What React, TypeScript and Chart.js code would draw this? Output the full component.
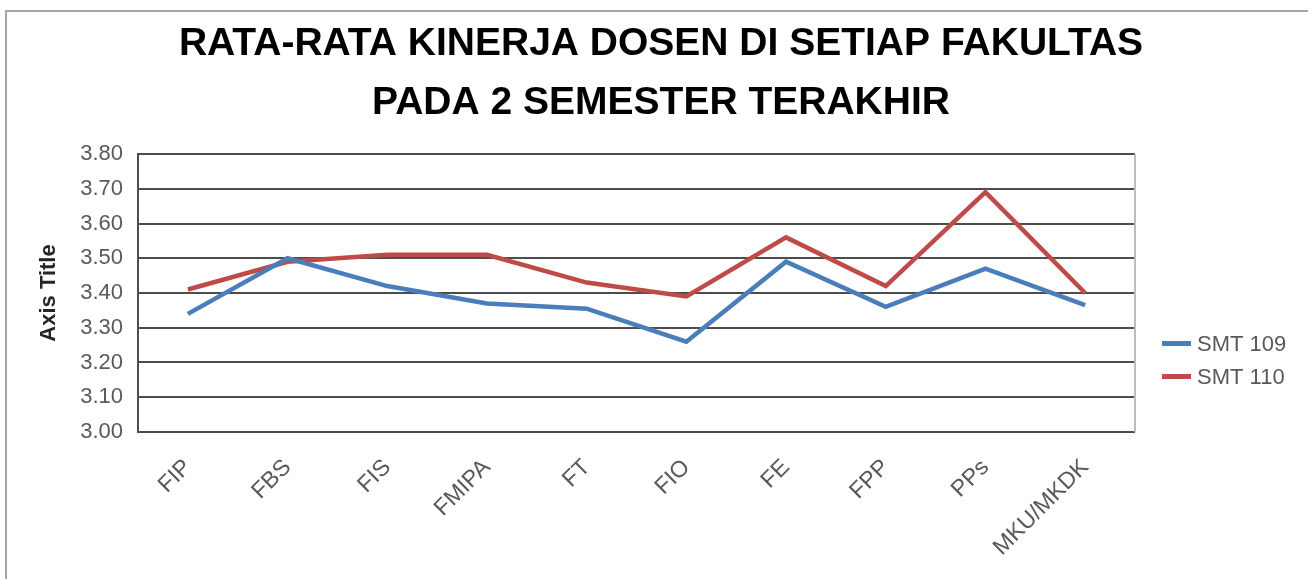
import React, { useEffect, useRef } from "react";
import { Chart, registerables } from "chart.js";

Chart.register(...registerables);

const categories = ["FIP", "FBS", "FIS", "FMIPA", "FT", "FIO", "FE", "FPP", "PPs", "MKU/MKDK"];
const smt109 = [3.34, 3.5, 3.42, 3.37, 3.355, 3.26, 3.49, 3.36, 3.47, 3.365];
const smt110 = [3.41, 3.49, 3.51, 3.51, 3.43, 3.39, 3.56, 3.42, 3.69, 3.4];
const seriesNames = ["SMT 109", "SMT 110"];
const seriesColors = ["#4A7EBB", "#BE4B48"];
const titleLines = ["RATA-RATA KINERJA DOSEN DI SETIAP FAKULTAS", "PADA 2 SEMESTER TERAKHIR"];
const yTitle = "Axis Title";

const FONT = '"Liberation Sans", Arial, sans-serif';

const framePlugin = {
  id: "frame",
  beforeDraw(chart: any) {
    const { ctx } = chart;
    ctx.save();
    ctx.fillStyle = "#ffffff";
    ctx.fillRect(0, 0, chart.width, chart.height);
    ctx.strokeStyle = "#a6a6a6";
    ctx.lineWidth = 2;
    ctx.strokeRect(6, 11, chart.width + 50, chart.height + 50);
    ctx.restore();
  },
  afterDraw(chart: any) {
    const { ctx, chartArea } = chart;
    ctx.save();
    // right plot border
    ctx.strokeStyle = "#bdbdbd";
    ctx.lineWidth = 2;
    ctx.beginPath();
    ctx.moveTo(chartArea.right, chartArea.top);
    ctx.lineTo(chartArea.right, chartArea.bottom);
    ctx.stroke();
    // title
    ctx.fillStyle = "#000000";
    ctx.font = `bold 39px ${FONT}`;
    ctx.textAlign = "center";
    ctx.textBaseline = "alphabetic";
    ctx.fillText(titleLines[0], 661, 55);
    ctx.fillText(titleLines[1], 661, 114);
    // legend
    ctx.font = `22px ${FONT}`;
    ctx.textAlign = "left";
    chart.data.datasets.forEach((ds: any, i: number) => {
      const cy = 343 + i * 33;
      ctx.fillStyle = ds.borderColor;
      ctx.fillRect(1162, cy - 2, 29, 5);
      ctx.fillStyle = "#595959";
      ctx.fillText(ds.label, 1197, cy + 8);
    });
    ctx.restore();
  },
};

export default function App() {
  const ref = useRef<HTMLCanvasElement | null>(null);
  useEffect(() => {
    if (!ref.current) return;
    const chart = new Chart(ref.current, {
      type: "line",
      data: {
        labels: categories,
        datasets: [
          {
            label: seriesNames[0],
            data: smt109,
            borderColor: seriesColors[0],
            backgroundColor: seriesColors[0],
            borderWidth: 4.5,
            pointRadius: 0,
            tension: 0,
          },
          {
            label: seriesNames[1],
            data: smt110,
            borderColor: seriesColors[1],
            backgroundColor: seriesColors[1],
            borderWidth: 4.5,
            pointRadius: 0,
            tension: 0,
          },
        ],
      },
      options: {
        responsive: false,
        animation: false,
        devicePixelRatio: 1,
        layout: { padding: { left: 0, top: 154, right: 173, bottom: 0 } },
        plugins: {
          legend: { display: false },
          title: { display: false },
          tooltip: { enabled: false },
        },
        scales: {
          x: {
            offset: true,
            grid: { display: false },
            border: { display: false },
            ticks: {
              autoSkip: false,
              minRotation: 45,
              maxRotation: 45,
              padding: 14,
              color: "#595959",
              font: { family: FONT, size: 23 },
            },
            afterFit(scale: any) {
              scale.height = 147;
            },
          },
          y: {
            min: 3.0,
            max: 3.8,
            ticks: {
              stepSize: 0.1,
              padding: 15,
              color: "#595959",
              font: { family: FONT, size: 22 },
              callback: (v: any) => Number(v).toFixed(2),
            },
            grid: { color: "#4d4d4d", lineWidth: 2, drawTicks: false },
            border: { display: true, color: "#4d4d4d", width: 2 },
            title: {
              display: true,
              text: yTitle,
              color: "#262626",
              font: { family: FONT, size: 22, weight: "bold" },
              padding: { top: 36, bottom: 0 },
            },
            afterFit(scale: any) {
              scale.width = 138;
            },
          },
        },
      },
      plugins: [framePlugin],
    });
    return () => chart.destroy();
  }, []);
  return (
    <div style={{ position: "fixed", left: 0, top: 0, width: 1308, height: 579, background: "#fff" }}>
      <canvas ref={ref} width={1308} height={579} style={{ width: 1308, height: 579, display: "block" }} />
    </div>
  );
}
